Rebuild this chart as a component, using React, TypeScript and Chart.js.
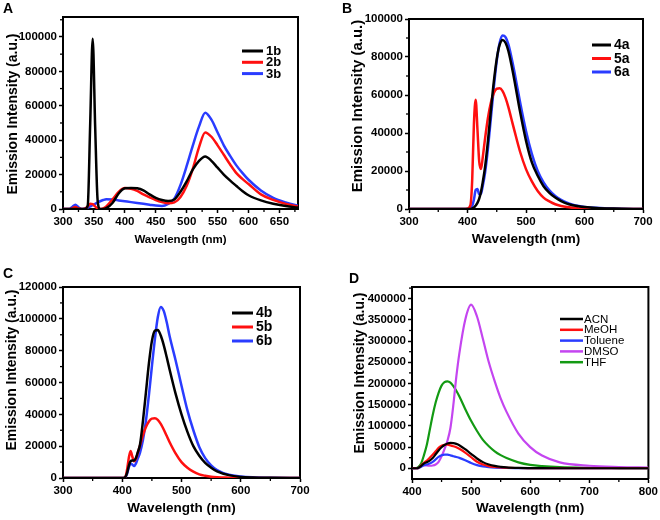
import React, { useEffect, useRef } from "react";
import { Chart, registerables } from "chart.js";
Chart.register(...registerables);

const FAMILY = "'Liberation Sans', Arial, Helvetica, sans-serif";
Chart.defaults.font.family = FAMILY;
Chart.defaults.font.weight = "bold";
Chart.defaults.font.size = 11;
Chart.defaults.color = "#000";

// ---------- Panel A ----------
const aWavelength = [300, 310, 315, 320, 325, 330, 335, 340, 344, 348, 352, 356, 360, 365, 370, 380, 390, 400, 410, 420, 430, 440, 450, 460, 470, 480, 490, 500, 510, 520, 530, 540, 550, 560, 570, 580, 590, 600, 620, 640, 660, 680];
const a1b = [0, 0, 0, 0, 0, 0, 0, 2000, 50000, 99000, 48000, 5000, 0, 0, 500, 3500, 9000, 12000, 12200, 12000, 10800, 8500, 6500, 5200, 4600, 5500, 10000, 16000, 23000, 28000, 30500, 28000, 24000, 20000, 16600, 13500, 10500, 8000, 5000, 3000, 1700, 800];
const a2b = [0, 0, 400, 1200, 300, 0, 200, 1500, 3000, 2800, 1500, 300, 0, 400, 1500, 5500, 10000, 12200, 11800, 10500, 8500, 6800, 5200, 4000, 3300, 3800, 7000, 13500, 23500, 36000, 44500, 42000, 37000, 31500, 26000, 21000, 17500, 14500, 8500, 5300, 3000, 1400];
const a3b = [0, 0, 1200, 2500, 1000, 0, 300, 800, 1500, 2200, 3000, 3800, 4500, 5200, 5600, 5500, 5000, 4500, 4000, 3500, 3000, 2500, 2000, 1800, 3000, 6000, 14000, 25000, 37000, 48000, 56000, 52000, 44500, 37000, 31000, 25500, 21000, 17000, 10800, 6500, 3800, 1800];
const aXTicks = [300, 350, 400, 450, 500, 550, 600, 650];
const aXMinor = [325, 375, 425, 475, 525, 575, 625, 675];
const aYTicks = [0, 20000, 40000, 60000, 80000, 100000];
const aYMinor = [10000, 30000, 50000, 70000, 90000, 110000];

// ---------- Panel B ----------
const bWavelength = [300, 350, 395, 400, 405, 408, 411, 414, 417, 420, 423, 426, 430, 435, 440, 445, 450, 455, 460, 465, 470, 475, 480, 490, 500, 510, 520, 530, 540, 550, 560, 570, 580, 590, 600, 620, 650, 700];
const b4a = [0, 0, 0, 0, 0, 300, 800, 1800, 3200, 5500, 9000, 14000, 22000, 36000, 52000, 67000, 79000, 86500, 89000, 87500, 83000, 76000, 68000, 51000, 36000, 24500, 17500, 12000, 8500, 6000, 4200, 2800, 2000, 1400, 1000, 500, 200, 0];
const b5a = [0, 0, 0, 200, 2000, 15000, 45000, 57500, 42000, 25000, 21000, 27000, 37000, 48000, 56000, 61000, 63300, 63500, 62000, 58500, 53500, 47500, 41500, 30000, 21000, 14500, 9500, 6000, 4000, 2500, 1600, 1000, 600, 300, 200, 0, 0, 0];
const b6a = [0, 0, 0, 0, 300, 1500, 5000, 10000, 10500, 7800, 8000, 12000, 19000, 32000, 48000, 64000, 78000, 87500, 91300, 90500, 86500, 80000, 72500, 56000, 41000, 29000, 20000, 14000, 9800, 6800, 4800, 3300, 2300, 1600, 1100, 600, 200, 0];
const bXTicks = [300, 400, 500, 600, 700];
const bXMinor = [350, 450, 550, 650];
const bYTicks = [0, 20000, 40000, 60000, 80000, 100000];
const bYMinor = [10000, 30000, 50000, 70000, 90000];

// ---------- Panel C ----------
const cWavelength = [300, 350, 400, 405, 408, 411, 414, 417, 420, 423, 426, 430, 435, 440, 445, 450, 455, 460, 465, 470, 475, 480, 490, 500, 510, 520, 530, 540, 550, 560, 580, 600, 620, 650, 700];
const c4b = [0, 0, 0, 500, 3000, 7500, 10500, 11000, 11000, 12500, 16000, 21000, 36000, 54000, 72000, 86000, 92500, 93000, 89500, 83500, 76000, 68000, 53000, 40000, 29000, 20000, 14000, 9500, 6500, 4200, 1800, 700, 300, 100, 0];
const c5b = [0, 0, 0, 500, 5000, 12500, 17000, 13500, 10500, 12000, 15500, 20500, 27000, 32000, 35500, 37300, 37500, 36500, 34000, 30500, 26500, 22500, 15500, 10000, 6500, 4000, 2300, 1400, 800, 500, 200, 0, 0, 0, 0];
const c6b = [0, 0, 0, 500, 2500, 6500, 9000, 8500, 7500, 9000, 12000, 16000, 24000, 36000, 52000, 70000, 87000, 101000, 107500, 105000, 98000, 89000, 74000, 58000, 42500, 30000, 19500, 12500, 8000, 5000, 2000, 900, 400, 100, 0];
const cXTicks = [300, 400, 500, 600, 700];
const cXMinor = [350, 450, 550, 650];
const cYTicks = [0, 20000, 40000, 60000, 80000, 100000, 120000];
const cYMinor = [10000, 30000, 50000, 70000, 90000, 110000];

// ---------- Panel D ----------
const dWavelength = [400, 405, 410, 415, 420, 425, 430, 435, 440, 445, 450, 455, 460, 465, 470, 475, 480, 490, 500, 510, 520, 530, 540, 550, 560, 580, 600, 620, 650, 700, 750, 800];
const dACN = [0, 0, 500, 5000, 11000, 14000, 18000, 24000, 33000, 42000, 49500, 55000, 58500, 60000, 59500, 57500, 54500, 45000, 34000, 23000, 14500, 9000, 5500, 3500, 2200, 1000, 500, 200, 100, 0, 0, 0];
const dMeOH = [0, 0, 500, 6000, 13000, 18000, 25000, 32000, 40000, 48000, 53000, 55500, 55500, 54000, 52000, 49500, 46000, 37000, 26000, 15500, 9000, 5200, 3200, 2000, 1200, 600, 300, 100, 0, 0, 0, 0];
const dToluene = [0, 0, 500, 3000, 7000, 9000, 11000, 15000, 21000, 26800, 30500, 32400, 32000, 30500, 28500, 26500, 24500, 19000, 12500, 7500, 4300, 2600, 1600, 1000, 600, 300, 100, 0, 0, 0, 0, 0];
const dDMSO = [0, 0, 500, 4000, 6500, 6500, 6000, 6500, 9000, 15000, 28000, 45000, 65000, 95000, 150000, 216000, 270000, 350000, 386000, 358000, 305000, 250000, 205000, 165000, 133000, 82000, 50000, 30000, 14000, 6000, 3000, 1500];
const dTHF = [0, 0, 2000, 10000, 30000, 55000, 90000, 125000, 155000, 178000, 195000, 203000, 205000, 202000, 194000, 183000, 170000, 140000, 112000, 88000, 67000, 52000, 40000, 31000, 24000, 14000, 8000, 5000, 2500, 1000, 500, 200];
const dXTicks = [400, 500, 600, 700, 800];
const dXMinor = [450, 550, 650, 750];
const dYTicks = [0, 50000, 100000, 150000, 200000, 250000, 300000, 350000, 400000];
const dYMinor = [25000, 75000, 125000, 175000, 225000, 275000, 325000, 375000, 425000];

const BLACK = "#000000";
const RED = "#ff1010";
const BLUE = "#2a3cff";
const PURPLE = "#c445f0";
const GREEN = "#139a13";

type Series = { label: string; xs: number[]; ys: number[]; color: string };
type Spec = {
  letter: [string, number, number];
  series: Series[];
  lineWidth: number;
  xMin: number; xMax: number; yMin: number; yMax: number;
  xTicks: number[]; xMinor: number[]; yTicks: number[]; yMinor: number[];
  yWidth: number; xHeight: number; padRight: number; padTop: number;
  xTitleSize: number; xTitlePad: number;
  yTitle: { x: number; y: number; size: number };
  legend: { x: number; y: number; len: number; gap: number; rowH: number; font: string; lw: number };
};

const pts = (xs: number[], ys: number[]) => xs.map((x, i) => ({ x, y: ys[i] }));

const specs: { left: number; top: number; spec: Spec }[] = [
  {
    left: 0, top: 0,
    spec: {
      letter: ["A", 3, 13],
      series: [
        { label: "1b", xs: aWavelength, ys: a1b, color: BLACK },
        { label: "2b", xs: aWavelength, ys: a2b, color: RED },
        { label: "3b", xs: aWavelength, ys: a3b, color: BLUE },
      ],
      lineWidth: 2.5,
      xMin: 300, xMax: 680, yMin: 0, yMax: 111600,
      xTicks: aXTicks, xMinor: aXMinor, yTicks: aYTicks, yMinor: aYMinor,
      yWidth: 63, xHeight: 51, padRight: 32, padTop: 17,
      xTitleSize: 11.5, xTitlePad: 13,
      yTitle: { x: 13, y: 114, size: 14 },
      legend: { x: 242, y: 51, len: 21, gap: 3, rowH: 11.3, font: `bold 13px ${FAMILY}`, lw: 3 },
    },
  },
  {
    left: 330, top: 0,
    spec: {
      letter: ["B", 12, 13],
      series: [
        { label: "4a", xs: bWavelength, ys: b4a, color: BLACK },
        { label: "5a", xs: bWavelength, ys: b5a, color: RED },
        { label: "6a", xs: bWavelength, ys: b6a, color: BLUE },
      ],
      lineWidth: 2.5,
      xMin: 300, xMax: 700, yMin: 0, yMax: 100000,
      xTicks: bXTicks, xMinor: bXMinor, yTicks: bYTicks, yMinor: bYMinor,
      yWidth: 79, xHeight: 51, padRight: 17, padTop: 19,
      xTitleSize: 13.5, xTitlePad: 13,
      yTitle: { x: 28, y: 106, size: 15 },
      legend: { x: 262, y: 45, len: 19, gap: 3, rowH: 13.5, font: `bold 14px ${FAMILY}`, lw: 3 },
    },
  },
  {
    left: 0, top: 260,
    spec: {
      letter: ["C", 3, 18],
      series: [
        { label: "4b", xs: cWavelength, ys: c4b, color: BLACK },
        { label: "5b", xs: cWavelength, ys: c5b, color: RED },
        { label: "6b", xs: cWavelength, ys: c6b, color: BLUE },
      ],
      lineWidth: 2.5,
      xMin: 300, xMax: 700, yMin: 0, yMax: 120000,
      xTicks: cXTicks, xMinor: cXMinor, yTicks: cYTicks, yMinor: cYMinor,
      yWidth: 63, xHeight: 42, padRight: 30, padTop: 27,
      xTitleSize: 13.5, xTitlePad: 4,
      yTitle: { x: 12, y: 110, size: 14 },
      legend: { x: 232, y: 53, len: 21, gap: 3, rowH: 14, font: `bold 14px ${FAMILY}`, lw: 3 },
    },
  },
  {
    left: 330, top: 260,
    spec: {
      letter: ["D", 19, 23],
      series: [
        { label: "ACN", xs: dWavelength, ys: dACN, color: BLACK },
        { label: "MeOH", xs: dWavelength, ys: dMeOH, color: RED },
        { label: "Toluene", xs: dWavelength, ys: dToluene, color: BLUE },
        { label: "DMSO", xs: dWavelength, ys: dDMSO, color: PURPLE },
        { label: "THF", xs: dWavelength, ys: dTHF, color: GREEN },
      ],
      lineWidth: 2.2,
      xMin: 400, xMax: 800, yMin: -25300, yMax: 427600,
      xTicks: dXTicks, xMinor: dXMinor, yTicks: dYTicks, yMinor: dYMinor,
      yWidth: 82, xHeight: 41, padRight: 11, padTop: 27,
      xTitleSize: 13.5, xTitlePad: 4,
      yTitle: { x: 30, y: 113, size: 14 },
      legend: { x: 230, y: 59, len: 23, gap: 1, rowH: 10.8, font: `normal 11.5px ${FAMILY}`, lw: 2.5 },
    },
  },
];

function makeDecor(s: Spec) {
  return {
    id: "decor",
    beforeDatasetsDraw(chart: any) {
      const { ctx, chartArea: ca } = chart;
      const xs = chart.scales.x;
      const ys = chart.scales.y;
      ctx.save();
      ctx.strokeStyle = "#000";
      ctx.lineWidth = 2;
      ctx.beginPath();
      ctx.moveTo(ca.left, ca.top);
      ctx.lineTo(ca.right, ca.top);
      ctx.lineTo(ca.right, ca.bottom);
      ctx.stroke();
      ctx.lineWidth = 1.3;
      for (const v of s.xMinor) {
        const p = xs.getPixelForValue(v);
        ctx.beginPath();
        ctx.moveTo(p, ca.bottom);
        ctx.lineTo(p, ca.bottom + 3);
        ctx.stroke();
      }
      for (const v of s.yMinor) {
        const p = ys.getPixelForValue(v);
        ctx.beginPath();
        ctx.moveTo(ca.left, p);
        ctx.lineTo(ca.left - 3, p);
        ctx.stroke();
      }
      ctx.restore();
    },
    afterDraw(chart: any) {
      const ctx = chart.ctx;
      const L = s.legend;
      ctx.save();
      ctx.font = L.font;
      ctx.textBaseline = "middle";
      ctx.textAlign = "left";
      chart.data.datasets.forEach((ds: any, i: number) => {
        const y = L.y + i * L.rowH;
        ctx.strokeStyle = ds.borderColor;
        ctx.lineWidth = L.lw;
        ctx.beginPath();
        ctx.moveTo(L.x, y);
        ctx.lineTo(L.x + L.len, y);
        ctx.stroke();
        ctx.fillStyle = "#000";
        ctx.fillText(ds.label, L.x + L.len + L.gap, y + 0.5);
      });
      ctx.save();
      ctx.translate(s.yTitle.x, s.yTitle.y);
      ctx.rotate(-Math.PI / 2);
      ctx.font = `bold ${s.yTitle.size}px ${FAMILY}`;
      ctx.textAlign = "center";
      ctx.textBaseline = "middle";
      ctx.fillStyle = "#000";
      ctx.fillText("Emission Intensity (a.u.)", 0, 0);
      ctx.restore();
      ctx.font = `bold 14px ${FAMILY}`;
      ctx.textAlign = "left";
      ctx.textBaseline = "alphabetic";
      ctx.fillStyle = "#000";
      ctx.fillText(s.letter[0], s.letter[1], s.letter[2]);
      ctx.restore();
    },
  };
}

function buildConfig(s: Spec): any {
  const tickFont = { family: FAMILY, size: 11.5, weight: "bold", style: "normal" };
  const grid = { display: true, drawOnChartArea: false, drawTicks: true, tickLength: 4, tickWidth: 1.5, tickColor: "#000" };
  const border = { display: true, color: "#000", width: 2 };
  return {
    type: "line",
    data: {
      datasets: s.series.map((ser) => ({
        label: ser.label,
        data: pts(ser.xs, ser.ys),
        borderColor: ser.color,
        backgroundColor: ser.color,
        borderWidth: s.lineWidth,
        pointRadius: 0,
        fill: false,
        cubicInterpolationMode: "monotone",
      })),
    },
    options: {
      responsive: false,
      animation: false,
      devicePixelRatio: 1,
      events: [],
      layout: { padding: { left: 0, right: s.padRight, top: s.padTop, bottom: 0 } },
      plugins: { legend: { display: false }, tooltip: { enabled: false } },
      scales: {
        x: {
          type: "linear",
          min: s.xMin,
          max: s.xMax,
          afterBuildTicks: (sc: any) => { sc.ticks = s.xTicks.map((v) => ({ value: v })); },
          afterFit: (sc: any) => { sc.height = s.xHeight; },
          ticks: { font: tickFont, color: "#000", padding: 2, autoSkip: false, maxRotation: 0, callback: (v: any) => String(v) },
          grid,
          border,
          title: {
            display: true,
            text: "Wavelength (nm)",
            color: "#000",
            font: { family: FAMILY, size: s.xTitleSize, weight: "bold" },
            padding: { top: 0, bottom: s.xTitlePad },
          },
        },
        y: {
          type: "linear",
          min: s.yMin,
          max: s.yMax,
          afterBuildTicks: (sc: any) => { sc.ticks = s.yTicks.map((v) => ({ value: v })); },
          afterFit: (sc: any) => { sc.width = s.yWidth; },
          ticks: { font: tickFont, color: "#000", padding: 2, autoSkip: false, callback: (v: any) => String(v) },
          grid,
          border,
          title: { display: false },
        },
      },
    },
    plugins: [makeDecor(s)],
  };
}

function Panel({ spec, left, top }: { spec: Spec; left: number; top: number }) {
  const ref = useRef<HTMLCanvasElement>(null);
  useEffect(() => {
    const chart = new Chart(ref.current as HTMLCanvasElement, buildConfig(spec));
    return () => chart.destroy();
  }, [spec]);
  return (
    <canvas
      ref={ref}
      width={330}
      height={260}
      style={{ position: "absolute", left, top, width: 330, height: 260, display: "block" }}
    />
  );
}

export default function App() {
  return (
    <div style={{ position: "absolute", left: 0, top: 0, width: 660, height: 520, background: "#fff" }}>
      {specs.map((p, i) => (
        <Panel key={i} spec={p.spec} left={p.left} top={p.top} />
      ))}
    </div>
  );
}
